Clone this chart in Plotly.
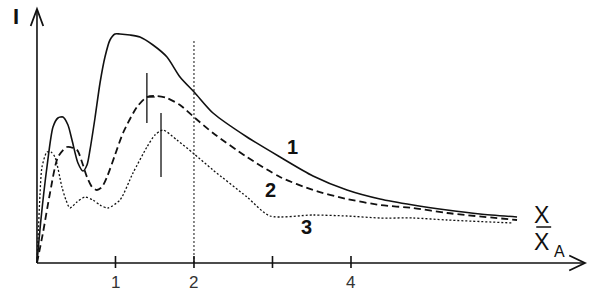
import plotly.graph_objects as go

# ---- data (x in units of X/X_A, I in arbitrary units) ----
x1 = [0, 0.05, 0.127, 0.204, 0.267, 0.331, 0.395, 0.446, 0.522, 0.586, 0.637, 0.675, 0.739, 0.803,
      0.866, 0.930, 0.994, 1.057, 1.185, 1.312, 1.478, 1.656, 1.822, 2.013, 2.242, 2.675, 3.096,
      3.516, 3.949, 4.369, 4.790, 5.223, 5.643, 6.115]
y1 = [0, 0.43, 0.96, 1.36, 1.45, 1.46, 1.38, 1.23, 1.00, 0.92, 0.98, 1.13, 1.45, 1.80,
      2.06, 2.23, 2.29, 2.29, 2.28, 2.26, 2.18, 2.06, 1.86, 1.70, 1.50, 1.26, 1.06,
      0.87, 0.73, 0.64, 0.58, 0.53, 0.49, 0.46]

x2 = [0, 0.076, 0.166, 0.268, 0.382, 0.510, 0.573, 0.637, 0.701, 0.764, 0.828, 0.892, 0.994,
      1.096, 1.274, 1.401, 1.529, 1.656, 1.822, 2.013, 2.242, 2.675, 3.096, 3.516, 3.949,
      4.369, 4.790, 5.223, 6.115]
y2 = [0, 0.30, 0.70, 1.06, 1.16, 1.13, 1.01, 0.86, 0.76, 0.73, 0.76, 0.86, 1.08,
      1.30, 1.56, 1.66, 1.67, 1.65, 1.58, 1.45, 1.30, 1.06, 0.86, 0.73, 0.64,
      0.58, 0.55, 0.50, 0.43]

x3 = [0, 0.013, 0.038, 0.064, 0.127, 0.178, 0.229, 0.318, 0.369, 0.420, 0.510, 0.611, 0.713,
      0.803, 0.904, 1.057, 1.223, 1.401, 1.503, 1.605, 1.783, 1.987, 2.242, 2.675, 2.968,
      3.516, 3.949, 4.369, 4.790, 5.223, 6.064]
y3 = [0, 0.23, 0.68, 0.96, 1.11, 1.11, 1.06, 0.76, 0.63, 0.55, 0.61, 0.66, 0.63,
      0.58, 0.55, 0.63, 0.90, 1.16, 1.28, 1.33, 1.23, 1.10, 0.93, 0.66, 0.47,
      0.48, 0.47, 0.45, 0.45, 0.43, 0.40]

curve_labels = ["1", "2", "3"]
tick_vals = [1, 2, 3, 4]
tick_text = ["1", "2", "", "4"]

INK = "#111111"
FONT = "Arial, Liberation Sans"

fig = go.Figure()
fig.add_trace(go.Scatter(x=x1, y=y1, mode="lines",
                         line=dict(color=INK, width=1.6, shape="spline", smoothing=0.7)))
fig.add_trace(go.Scatter(x=x2, y=y2, mode="lines",
                         line=dict(color=INK, width=1.8, shape="spline", smoothing=0.7, dash="7px,4px")))
fig.add_trace(go.Scatter(x=x3, y=y3, mode="lines",
                         line=dict(color=INK, width=1.3, shape="spline", smoothing=0.7, dash="2px,2px")))

shapes = []
# axes
shapes.append(dict(type="line", x0=0, y0=0, x1=6.97, y1=0, line=dict(color=INK, width=1.6)))
shapes.append(dict(type="line", x0=0, y0=0, x1=0, y1=2.53, line=dict(color=INK, width=1.6)))
# arrow heads (chevrons)
shapes.append(dict(type="path", path="M 6.78,0.075 L 6.98,0 L 6.78,-0.075",
                   line=dict(color=INK, width=1.8)))
shapes.append(dict(type="path", path="M -0.08,2.37 L 0,2.54 L 0.08,2.37",
                   line=dict(color=INK, width=1.8)))
# ticks
for tv in tick_vals:
    shapes.append(dict(type="line", x0=tv, y0=-0.05, x1=tv, y1=0.07, line=dict(color=INK, width=1.6)))
# vertical dotted line at x=2
shapes.append(dict(type="line", x0=2, y0=0, x1=2, y1=2.23,
                   line=dict(color=INK, width=1, dash="2px,2px")))
# markers on peaks
shapes.append(dict(type="line", x0=1.40, y0=1.40, x1=1.40, y1=1.90, line=dict(color=INK, width=1.3)))
shapes.append(dict(type="line", x0=1.40, y0=1.66, x1=1.50, y1=1.66, line=dict(color=INK, width=1.3)))
shapes.append(dict(type="line", x0=1.58, y0=0.86, x1=1.58, y1=1.50, line=dict(color=INK, width=1.3)))
# fraction bar
shapes.append(dict(type="line", x0=6.36, y0=0.36, x1=6.55, y1=0.36, line=dict(color=INK, width=1.5)))

annotations = []
for tv, tt in zip(tick_vals, tick_text):
    if tt:
        annotations.append(dict(x=tv, y=-0.19, text=tt, showarrow=False,
                                font=dict(family=FONT, size=17, color="#333333")))
# curve labels
for lbl, (ax, ay) in zip(curve_labels, [(3.26, 1.16), (2.98, 0.73), (3.43, 0.36)]):
    annotations.append(dict(x=ax, y=ay, text="<b>%s</b>" % lbl, showarrow=False,
                            font=dict(family=FONT, size=20, color=INK)))
# axis labels
annotations.append(dict(x=-0.27, y=2.47, text="<b>I</b>", showarrow=False,
                        font=dict(family=FONT, size=22, color=INK)))
annotations.append(dict(x=6.43, y=0.48, text="X", showarrow=False,
                        font=dict(family=FONT, size=23, color=INK)))
annotations.append(dict(x=6.43, y=0.21, text="X", showarrow=False,
                        font=dict(family=FONT, size=23, color=INK)))
annotations.append(dict(x=6.66, y=0.12, text="A", showarrow=False,
                        font=dict(family=FONT, size=16, color=INK)))

fig.update_layout(
    width=596, height=292,
    margin=dict(l=0, r=0, t=0, b=0),
    paper_bgcolor="white", plot_bgcolor="white",
    showlegend=False,
    shapes=shapes, annotations=annotations,
    xaxis=dict(range=[-0.471, 7.121], visible=False),
    yaxis=dict(range=[-0.29, 2.63], visible=False),
)

fig.write_html("out.html")
